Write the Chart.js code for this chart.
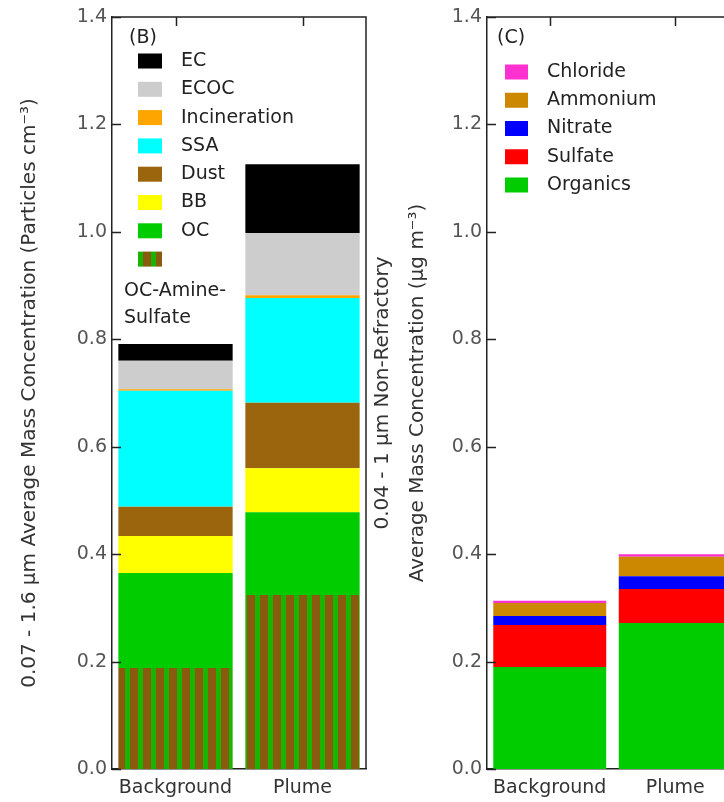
<!DOCTYPE html>
<html>
<head>
<meta charset="utf-8">
<script src="https://cdn.jsdelivr.net/npm/chart.js@4.4.1/dist/chart.umd.min.js"></script>
<style>
  html, body { margin: 0; padding: 0; background: #fff; overflow: hidden; width: 724px; height: 802px; }
  #wrapB { position: absolute; left: 0; top: 0; width: 370px; height: 802px; }
  #wrapC { position: absolute; left: 360px; top: 0; width: 382px; height: 802px; }
</style>
</head>
<body>
<div id="wrapB"><canvas id="chartB" width="370" height="802"></canvas></div>
<div id="wrapC"><canvas id="chartC" width="382" height="802"></canvas></div>
<script>
// Sampling periods shown on the x axis
const categories = ['Background', 'Plume'];
// Shared y tick values (both panels)
const yTicks = [0, 0.2, 0.4, 0.6, 0.8, 1.0, 1.2, 1.4];

// (B) single-particle source classes, stacked bottom to top
const ocAmineSulfate = [0.188, 0.324];
const ocClass        = [0.177, 0.154];
const bbClass        = [0.069, 0.082];
const dustClass      = [0.054, 0.122];
const ssaClass       = [0.216, 0.195];
const incineration   = [0.003, 0.005];
const ecocClass      = [0.053, 0.116];
const ecClass        = [0.031, 0.128];

// (C) non-refractory bulk composition, stacked bottom to top
const organics = [0.190, 0.272];
const sulfate  = [0.078, 0.063];
const nitrate  = [0.017, 0.024];
const ammonium = [0.024, 0.036];
const chloride = [0.004, 0.005];

Chart.defaults.font.family = "'DejaVu Sans', Verdana, sans-serif";

// Vertical brown/green stripes for the OC-Amine-Sulfate class
function stripePattern() {
  const c = document.createElement('canvas');
  c.width = 13; c.height = 13;
  const g = c.getContext('2d');
  g.fillStyle = '#19b400';
  g.fillRect(0, 0, 13, 13);
  g.fillStyle = '#8a5a0e';
  g.fillRect(0, 0, 8, 13);
  return g.createPattern(c, 'repeat');
}

// Box around the plot area with inward tick marks on the left and top
const framePlugin = {
  id: 'frame',
  afterDraw(chart, args, opts) {
    const { ctx, chartArea: a, scales: { x, y } } = chart;
    ctx.save();
    ctx.strokeStyle = opts.color;
    ctx.lineWidth = opts.width;
    ctx.beginPath();
    ctx.moveTo(a.left, a.top);
    ctx.lineTo(a.right, a.top);
    ctx.lineTo(a.right, a.bottom);
    y.ticks.forEach(t => {
      const py = Math.round(y.getPixelForValue(t.value)) + 0.5;
      ctx.moveTo(a.left, py);
      ctx.lineTo(a.left + opts.tick, py);
    });
    x.ticks.forEach((t, i) => {
      const px = Math.round(x.getPixelForTick(i)) + 0.5;
      ctx.moveTo(px, a.top);
      ctx.lineTo(px, a.top + opts.tick);
    });
    ctx.stroke();
    ctx.restore();
  }
};

// Swatch legend drawn inside the plot area, top series first
const boxLegend = {
  id: 'boxLegend',
  afterDraw(chart, args, o) {
    const { ctx, chartArea: a } = chart;
    ctx.save();
    ctx.font = o.font;
    ctx.textBaseline = 'middle';
    ctx.textAlign = 'left';
    ctx.fillStyle = o.color;
    ctx.fillText(o.panel, a.left + o.panelX, a.top + o.panelY);
    chart.data.datasets.slice().reverse().forEach((ds, i) => {
      const yc = a.top + o.firstRow + i * o.rowGap;
      ctx.fillStyle = ds.backgroundColor;
      ctx.fillRect(a.left + o.boxX, yc - o.boxH / 2, o.boxW, o.boxH);
      ctx.fillStyle = o.color;
      if (ds.legendBelow) {
        const cut = ds.label.lastIndexOf('-') + 1;
        const lines = [ds.label.slice(0, cut), ds.label.slice(cut)];
        lines.forEach((s, k) => ctx.fillText(s, a.left + o.belowX, yc + o.belowGap + k * o.belowLine));
      } else {
        ctx.fillText(ds.label, a.left + o.textX, yc);
      }
    });
    ctx.restore();
  }
};

function yScale(width, title, titlePad, lineHeight) {
  return {
    stacked: true,
    min: 0,
    max: 1.4,
    afterBuildTicks: s => { s.ticks = yTicks.map(v => ({ value: v })); },
    afterFit: s => { s.width = width; },
    grid: { display: false, drawTicks: false },
    border: { display: true, color: '#222', width: 1.5 },
    ticks: { padding: 5, color: '#555', font: { size: 19 }, callback: v => Number(v).toFixed(1) },
    title: {
      display: true, text: title, color: '#333',
      font: { size: 20, lineHeight: lineHeight },
      padding: { top: titlePad, bottom: 0 }
    }
  };
}

function xScale() {
  return {
    stacked: true,
    z: 1,
    afterFit: s => { s.height = 33; },
    grid: { display: false, drawTicks: false },
    border: { display: true, color: '#222', width: 1.5 },
    ticks: { padding: 8, color: '#333', font: { size: 19 } }
  };
}

function bar(label, data, color, extra) {
  return Object.assign({ label, data, backgroundColor: color, borderWidth: 0,
    barPercentage: 0.9, categoryPercentage: 1.0 }, extra || {});
}

new Chart(document.getElementById('chartB'), {
  type: 'bar',
  data: {
    labels: categories,
    datasets: [
      bar('OC-Amine-Sulfate', ocAmineSulfate, stripePattern(), { legendBelow: true }),
      bar('OC', ocClass, '#00cc00'),
      bar('BB', bbClass, '#ffff00'),
      bar('Dust', dustClass, '#9a650d'),
      bar('SSA', ssaClass, '#00ffff'),
      bar('Incineration', incineration, '#ffa500'),
      bar('ECOC', ecocClass, '#cdcdcd'),
      bar('EC', ecClass, '#000000')
    ]
  },
  options: {
    responsive: false,
    animation: false,
    layout: { padding: { top: 17, right: 4, left: 0, bottom: 0 } },
    scales: {
      x: xScale(),
      y: yScale(112, '0.07 - 1.6 \u03BCm Average Mass Concentration (Particles cm\u207B\u00B3)', 18, 1.2)
    },
    plugins: {
      legend: { display: false },
      tooltip: { enabled: false },
      frame: { color: '#222', width: 1.5, tick: 9 },
      boxLegend: {
        font: "19px 'DejaVu Sans'", color: '#222', panel: '(B)', panelX: 17, panelY: 21,
        firstRow: 44, rowGap: 28.3, boxX: 26, boxW: 24, boxH: 15, textX: 69,
        belowX: 12, belowGap: 32, belowLine: 27
      }
    }
  },
  plugins: [framePlugin, boxLegend]
});

new Chart(document.getElementById('chartC'), {
  type: 'bar',
  data: {
    labels: categories,
    datasets: [
      bar('Organics', organics, '#00cc00'),
      bar('Sulfate', sulfate, '#ff0000'),
      bar('Nitrate', nitrate, '#0000ff'),
      bar('Ammonium', ammonium, '#cc8800'),
      bar('Chloride', chloride, '#ff30d0')
    ]
  },
  options: {
    responsive: false,
    animation: false,
    layout: { padding: { top: 17, right: 4, left: 0, bottom: 0 } },
    scales: {
      x: xScale(),
      y: yScale(127, ['0.04 - 1 \u03BCm Non-Refractory', 'Average Mass Concentration (\u03BCg m\u207B\u00B3)'], 5.5, 1.75)
    },
    plugins: {
      legend: { display: false },
      tooltip: { enabled: false },
      frame: { color: '#222', width: 1.5, tick: 9 },
      boxLegend: {
        font: "19px 'DejaVu Sans'", color: '#222', panel: '(C)', panelX: 10, panelY: 21,
        firstRow: 55, rowGap: 28.25, boxX: 18, boxW: 23, boxH: 15, textX: 60
      }
    }
  },
  plugins: [framePlugin, boxLegend]
});
</script>
</body>
</html>
